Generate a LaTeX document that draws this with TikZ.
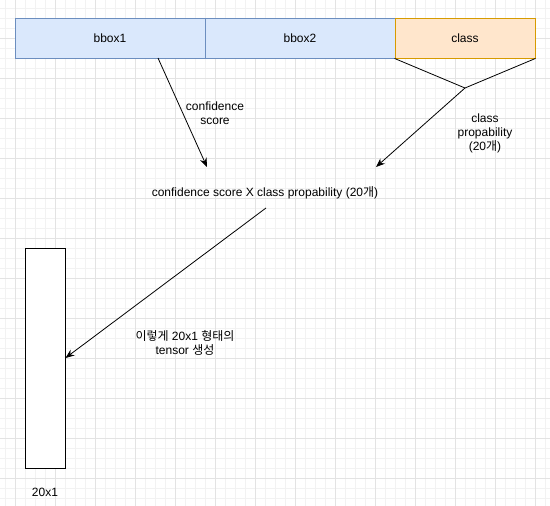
\documentclass[tikz,border=0pt]{standalone}
\usepackage{fontspec}
\setmainfont{Liberation Sans}
\newfontfamily\krfont{Noto Sans CJK KR}
\usetikzlibrary{arrows.meta}
\definecolor{boxblue}{HTML}{DAE8FC}
\definecolor{edgeblue}{HTML}{6C8EBF}
\definecolor{boxorange}{HTML}{FFE6CC}
\definecolor{edgeorange}{HTML}{D79B00}

\begin{document}
\begin{tikzpicture}[x=1pt,y=-1pt,font=\fontsize{12}{14}\selectfont,
	gridfine/.style={draw=black!5,line width=0.6pt},
	gridmajor/.style={draw=black!11,line width=0.8pt},
	field/.style={draw=edgeblue,fill=boxblue,line width=0.9pt,minimum width=190,minimum height=40,inner sep=0},
	arr/.style={-{Stealth[length=9pt,width=7pt]},line width=0.8pt},
	lbl/.style={align=center,inner sep=0}]
	\useasboundingbox (0,0) rectangle (550,506);
	% background grid
	\foreach \gx in {5,15,...,545}
		\draw[gridfine] (\gx,0) -- (\gx,506);
	\foreach \gy in {8,18,...,498}
		\draw[gridfine] (0,\gy) -- (550,\gy);
	\foreach \gx in {15,55,...,535}
		\draw[gridmajor] (\gx,0) -- (\gx,506);
	\foreach \gy in {38,78,...,478}
		\draw[gridmajor] (0,\gy) -- (550,\gy);
	% output of one grid cell
	\node[field] (bbox1) at (110,38) {bbox1};
	\node[field] (bbox2) at (300,38) {bbox2};
	\node[field,draw=edgeorange,fill=boxorange,minimum width=140] (cls) at (465,38) {class};
	\coordinate (merge) at (465,88);
	\draw[line width=0.8pt] (cls.south west) -- (merge) -- (cls.south east);
	\node[lbl] (conflbl) at (215,113) {confidence\\score};
	\node[lbl] (problbl) at (485,133) {class\\propability\\(20{\krfont 개})};
	% product
	\node[lbl] (prod) at (265,193) {confidence score X class propability (20{\krfont 개})};
	\coordinate (confin) at (207,167);
	\coordinate (probin) at (376,167);
	\coordinate (prodout) at (266,208);
	\draw[arr] (158,58) -- (confin);
	\draw[arr] (merge) -- (probin);
	% resulting tensor
	\node[draw,fill=white,line width=0.9pt,minimum width=40,minimum height=220,inner sep=0] (tensor) at (45,358) {};
	\draw[arr] (prodout) -- (tensor.east);
	\node[lbl] (tenslbl) at (185,343) {{\krfont 이렇게} 20x1 {\krfont 형태의}\\tensor {\krfont 생성}};
	\node[lbl] (sizelbl) at (45,492) {20x1};
\end{tikzpicture}
\end{document}
